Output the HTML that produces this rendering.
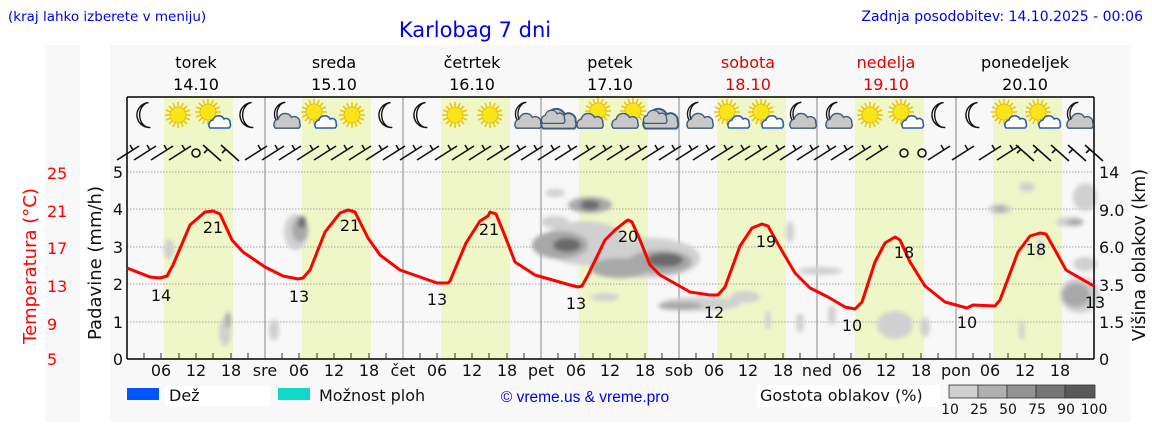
<!DOCTYPE html>
<html><head><meta charset="utf-8"><style>
html,body{margin:0;padding:0;background:#fff;}
svg{display:block;font-family:"DejaVu Sans",sans-serif;}
</style></head><body>
<svg width="1152" height="443" viewBox="0 0 1152 443" xmlns="http://www.w3.org/2000/svg">
<defs>
<filter id="bl" x="-50%" y="-50%" width="200%" height="200%"><feGaussianBlur stdDeviation="2.2"/></filter>
<symbol id="moon" viewBox="-18 -18 36 36" overflow="visible"><path d="M4,-14 A14,14 0 1 0 6,14 A11,14 0 0 1 4,-14 Z" fill="#fff" stroke="#111" stroke-width="1.6"/></symbol>
<g id="sun"><g stroke="#f2c400" stroke-width="1.6"><line x1="-13" y1="0" x2="13" y2="0"/><line x1="0" y1="-13" x2="0" y2="13"/><line x1="-9" y1="-9" x2="9" y2="9"/><line x1="-9" y1="9" x2="9" y2="-9"/><line x1="-12" y1="-5" x2="12" y2="5"/><line x1="-12" y1="5" x2="12" y2="-5"/><line x1="-5" y1="-12" x2="5" y2="12"/><line x1="5" y1="-12" x2="-5" y2="12"/></g><circle r="8" fill="#f7e51a" stroke="#e8b800" stroke-width="0.8"/></g>
<g id="scl"><path d="M-8,8 a5,5 0 0 1 3,-8 a6,6 0 0 1 11,-1 a4,4 0 0 1 6,4 a4,4 0 0 1 -1,5 Z" fill="#fff" stroke="#2a5db0" stroke-width="1.6"/></g>
<g id="gcl"><path d="M-14,8 a6,6 0 0 1 3,-10 a8,8 0 0 1 15,-2 a6,6 0 0 1 9,6 a5,5 0 0 1 -1,6 Z" fill="#c8c8c8" stroke="#3d5a7a" stroke-width="1.6"/></g>
<g id="i_moon"><use href="#moon" x="-16" y="-19" width="32" height="38"/></g>
<g id="i_sun"><use href="#sun"/></g>
<g id="i_sc"><use href="#sun" transform="translate(-4,-3)"/><use href="#scl" transform="translate(6,5)"/></g>
<g id="i_mc"><use href="#moon" x="-17" y="-18" width="30" height="34"/><use href="#gcl" transform="translate(4,6) scale(0.9)"/></g>
<g id="i_cl"><use href="#gcl" transform="translate(0,4) scale(1.2)"/><use href="#gcl" transform="translate(-6,2) scale(0.8)"/></g>
<g id="i_gsc"><use href="#sun" transform="translate(3,-4)"/><use href="#gcl" transform="translate(-4,6) scale(0.9)"/></g>
<g id="b"><g stroke="#111" stroke-width="1.6" fill="none"><line x1="-11" y1="7" x2="11" y2="-7"/><line x1="5" y1="-3" x2="2" y2="-8"/></g></g>
<g id="b2"><g stroke="#111" stroke-width="1.6" fill="none"><line x1="-9" y1="-8" x2="9" y2="8"/><line x1="-4" y1="-4" x2="-8" y2="0"/></g></g>
<g id="bc"><circle r="4" fill="none" stroke="#111" stroke-width="1.6"/></g>
</defs>

<rect x="45" y="45" width="35" height="377" fill="#f8f8f8"/>
<rect x="110" y="45" width="1021" height="377" fill="#f8f8f8"/>

<text x="8" y="21" font-size="13.5" fill="#0000ee">(kraj lahko izberete v meniju)</text>
<text x="475" y="37" font-size="21" fill="#0000ee" text-anchor="middle">Karlobag 7 dni</text>
<text x="1143" y="21" font-size="14" fill="#0000ee" text-anchor="end">Zadnja posodobitev: 14.10.2025 - 00:06</text>

<g font-size="16" text-anchor="middle">
<text x="196" y="68">torek</text><text x="196" y="90">14.10</text>
<text x="334" y="68">sreda</text><text x="334" y="90">15.10</text>
<text x="472" y="68">četrtek</text><text x="472" y="90">16.10</text>
<text x="610" y="68">petek</text><text x="610" y="90">17.10</text>
<text x="748" y="68" fill="#e00000">sobota</text><text x="748" y="90" fill="#e00000">18.10</text>
<text x="886" y="68" fill="#e00000">nedelja</text><text x="886" y="90" fill="#e00000">19.10</text>
<text x="1025" y="68">ponedeljek</text><text x="1025" y="90">20.10</text>
</g>

<rect x="127" y="97" width="967" height="262" fill="#f8f8f8"/>
<g fill="#eff7c8">
<rect x="164" y="97" width="69" height="262"/><rect x="302" y="97" width="69" height="262"/>
<rect x="441" y="97" width="69" height="262"/><rect x="579" y="97" width="69" height="262"/>
<rect x="717" y="97" width="69" height="262"/><rect x="855" y="97" width="69" height="262"/>
<rect x="993" y="97" width="69" height="262"/>
</g>
<g stroke="#888" stroke-width="0.8" stroke-dasharray="1.5,1.5">
<line x1="127" y1="172" x2="1094" y2="172"/><line x1="127" y1="209" x2="1094" y2="209"/>
<line x1="127" y1="247" x2="1094" y2="247"/><line x1="127" y1="284" x2="1094" y2="284"/>
<line x1="127" y1="322" x2="1094" y2="322"/>
</g>
<g stroke="#999" stroke-width="1.2">
<line x1="265" y1="97" x2="265" y2="359"/><line x1="403" y1="97" x2="403" y2="359"/>
<line x1="541" y1="97" x2="541" y2="359"/><line x1="679" y1="97" x2="679" y2="359"/>
<line x1="817" y1="97" x2="817" y2="359"/><line x1="956" y1="97" x2="956" y2="359"/>
</g>

<g filter="url(#bl)">
<g fill="#d0d0d0">
<ellipse cx="169" cy="249" rx="5" ry="10"/><ellipse cx="225" cy="332" rx="6" ry="14"/>
<ellipse cx="274" cy="330" rx="5" ry="11"/>
<ellipse cx="296" cy="232" rx="12" ry="18"/>
<ellipse cx="585" cy="243" rx="42" ry="22"/><ellipse cx="650" cy="258" rx="50" ry="20"/>
<ellipse cx="555" cy="193" rx="10" ry="4"/><ellipse cx="555" cy="222" rx="14" ry="6"/>
<ellipse cx="605" cy="297" rx="14" ry="4"/><ellipse cx="700" cy="304" rx="40" ry="7"/>
<ellipse cx="745" cy="297" rx="15" ry="6"/><ellipse cx="790" cy="232" rx="4" ry="11"/>
<ellipse cx="800" cy="323" rx="4" ry="10"/><ellipse cx="768" cy="320" rx="3" ry="10"/>
<ellipse cx="820" cy="271" rx="22" ry="4"/><ellipse cx="832" cy="315" rx="4" ry="10"/>
<ellipse cx="895" cy="325" rx="18" ry="14"/><ellipse cx="925" cy="327" rx="5" ry="10"/>
<ellipse cx="1000" cy="209" rx="12" ry="5"/><ellipse cx="1027" cy="187" rx="8" ry="5"/>
<ellipse cx="1085" cy="197" rx="12" ry="14"/><ellipse cx="1070" cy="222" rx="14" ry="5"/>
<ellipse cx="1085" cy="264" rx="12" ry="7"/><ellipse cx="1080" cy="295" rx="20" ry="18"/>
<ellipse cx="1022" cy="330" rx="3" ry="10"/><ellipse cx="1040" cy="247" rx="3" ry="10"/>
</g>
<g fill="#a8a8a8">
<ellipse cx="300" cy="230" rx="8" ry="12"/><ellipse cx="590" cy="205" rx="22" ry="8"/>
<ellipse cx="560" cy="245" rx="28" ry="14"/><ellipse cx="620" cy="268" rx="30" ry="10"/>
<ellipse cx="660" cy="262" rx="32" ry="12"/><ellipse cx="680" cy="306" rx="22" ry="4"/>
<ellipse cx="228" cy="320" rx="3" ry="8"/><ellipse cx="1076" cy="295" rx="14" ry="12"/>
<ellipse cx="1000" cy="209" rx="6" ry="3"/><ellipse cx="1075" cy="222" rx="8" ry="3"/>
</g>
<g fill="#6a6a6a">
<ellipse cx="590" cy="205" rx="10" ry="5"/><ellipse cx="567" cy="245" rx="14" ry="7"/>
<ellipse cx="665" cy="260" rx="18" ry="7"/><ellipse cx="302" cy="222" rx="4" ry="6"/>
</g>
</g>

<g stroke="#000" stroke-width="1.5"><line x1="127" y1="97" x2="127" y2="359"/><line x1="127" y1="359" x2="1094" y2="359"/><line x1="127" y1="97" x2="1094" y2="97"/><line x1="1094" y1="97" x2="1094" y2="359"/></g>
<g stroke="#333" stroke-width="1">
<path d="M144,359v-6M161,359v-6M179,359v-6M196,359v-6M213,359v-6M231,359v-6M248,359v-6M282,359v-6M299,359v-6M317,359v-6M334,359v-6M351,359v-6M369,359v-6M386,359v-6M420,359v-6M437,359v-6M455,359v-6M472,359v-6M489,359v-6M507,359v-6M524,359v-6M558,359v-6M575,359v-6M593,359v-6M610,359v-6M627,359v-6M645,359v-6M662,359v-6M696,359v-6M713,359v-6M731,359v-6M748,359v-6M765,359v-6M783,359v-6M800,359v-6M834,359v-6M851,359v-6M869,359v-6M886,359v-6M903,359v-6M921,359v-6M938,359v-6M973,359v-6M990,359v-6M1008,359v-6M1025,359v-6M1042,359v-6M1060,359v-6M1077,359v-6"/>
</g>

<polyline fill="none" stroke="#f00" stroke-width="3" stroke-linejoin="round" points="127,268 150,277 160,278 167,276 173,265 190,225 205,212 213,211 220,214 232,240 243,252 265,267 283,276 298,279 303,278 310,270 325,232 340,213 348,210 355,212 368,238 380,255 400,270 420,277 437,283 448,283 450,281 466,243 480,221 488,216 490,212 496,214 505,236 515,262 535,275 570,285 578,287 582,286 588,275 605,240 615,230 625,222 628,220 632,222 640,240 650,265 660,275 690,292 710,295 718,295 725,287 740,246 752,228 762,224 768,226 778,244 795,273 810,288 828,297 845,307 855,309 862,302 875,262 885,243 895,237 900,240 910,262 925,286 945,302 967,308 973,305 995,306 1000,300 1018,252 1030,236 1040,233 1046,234 1055,250 1066,270 1085,281 1094,286"/>
<g font-size="16" text-anchor="middle" fill="#111">
<text x="161" y="301">14</text><text x="213" y="233">21</text>
<text x="299" y="302">13</text><text x="350" y="231">21</text>
<text x="437" y="305">13</text><text x="489" y="235">21</text>
<text x="576" y="309">13</text><text x="628" y="242">20</text>
<text x="714" y="318">12</text><text x="766" y="247">19</text>
<text x="852" y="331">10</text><text x="904" y="258">18</text>
<text x="967" y="328">10</text><text x="1036" y="255">18</text>
<text x="1095" y="308">13</text>
</g>

<g transform="translate(0,115)">
<use href="#i_moon" x="145"/><use href="#i_sun" x="178"/><use href="#i_sc" x="212"/><use href="#i_moon" x="248"/>
<use href="#i_mc" x="284"/><use href="#i_sc" x="318"/><use href="#i_sun" x="352"/><use href="#i_moon" x="387"/>
<use href="#i_moon" x="422"/><use href="#i_sun" x="455"/><use href="#i_sun" x="490"/><use href="#i_mc" x="525"/>
<use href="#i_cl" x="560"/><use href="#i_gsc" x="595"/><use href="#i_gsc" x="630"/><use href="#i_cl" x="662"/>
<use href="#i_mc" x="697"/><use href="#i_sc" x="731"/><use href="#i_sc" x="765"/><use href="#i_mc" x="800"/>
<use href="#i_mc" x="836"/><use href="#i_sun" x="870"/><use href="#i_sc" x="905"/><use href="#i_moon" x="940"/>
<use href="#i_moon" x="974"/><use href="#i_sc" x="1008"/><use href="#i_sc" x="1042"/><use href="#i_mc" x="1077"/>
</g>

<g transform="translate(0,153)">
<use href="#b" x="128"/><use href="#b" x="145"/><use href="#b" x="162"/><use href="#b" x="180"/><use href="#bc" x="196" y="0"/><use href="#b2" x="212"/><use href="#b2" x="230"/>
<use href="#b" x="256"/><use href="#b" x="273"/><use href="#b" x="290"/><use href="#b" x="308"/><use href="#b" x="325"/><use href="#b" x="342"/><use href="#b" x="360"/><use href="#b" x="377"/>
<use href="#b" x="394"/><use href="#b" x="411"/><use href="#b" x="428"/><use href="#b" x="446"/><use href="#b" x="463"/><use href="#b" x="480"/><use href="#b" x="498"/><use href="#b" x="515"/>
<use href="#b" x="532"/><use href="#b" x="549"/><use href="#b" x="566"/><use href="#b" x="584"/><use href="#b" x="601"/><use href="#b" x="618"/><use href="#b" x="636"/><use href="#b" x="653"/>
<use href="#b" x="670"/><use href="#b" x="687"/><use href="#b" x="704"/><use href="#b" x="722"/><use href="#b" x="739"/><use href="#b" x="756"/><use href="#b" x="774"/><use href="#b" x="791"/>
<use href="#b" x="808"/><use href="#b" x="825"/><use href="#b" x="842"/><use href="#b" x="860"/><use href="#b" x="877"/><use href="#bc" x="904"/><use href="#bc" x="922"/><use href="#b" x="939"/>
<use href="#b" x="963"/><use href="#b" x="990"/><use href="#b" x="1008"/><use href="#b2" x="1025"/><use href="#b2" x="1042"/><use href="#b2" x="1060"/><use href="#b2" x="1077"/><use href="#b2" x="1094"/>
</g>

<g font-size="16" fill="#111" text-anchor="middle">
<text x="161" y="376">06</text><text x="196" y="376">12</text><text x="231" y="376">18</text><text x="265" y="376">sre</text>
<text x="299" y="376">06</text><text x="334" y="376">12</text><text x="369" y="376">18</text><text x="403" y="376">čet</text>
<text x="437" y="376">06</text><text x="472" y="376">12</text><text x="507" y="376">18</text><text x="541" y="376">pet</text>
<text x="576" y="376">06</text><text x="610" y="376">12</text><text x="645" y="376">18</text><text x="679" y="376">sob</text>
<text x="714" y="376">06</text><text x="748" y="376">12</text><text x="783" y="376">18</text><text x="817" y="376">ned</text>
<text x="852" y="376">06</text><text x="886" y="376">12</text><text x="921" y="376">18</text><text x="956" y="376">pon</text>
<text x="990" y="376">06</text><text x="1025" y="376">12</text><text x="1060" y="376">18</text>
</g>
<g font-size="16" fill="#111" text-anchor="end">
<text x="123" y="178">5</text><text x="123" y="215">4</text><text x="123" y="253">3</text><text x="123" y="290">2</text><text x="123" y="328">1</text><text x="123" y="365">0</text>
</g>
<g font-size="16" fill="#f00">
<text x="47" y="179">25</text><text x="47" y="217">21</text><text x="47" y="254">17</text><text x="47" y="292">13</text><text x="47" y="330">9</text><text x="47" y="365">5</text>
</g>
<g font-size="16" fill="#111">
<text x="1099" y="178">14</text><text x="1099" y="216">9.0</text><text x="1099" y="253">6.0</text><text x="1099" y="291">3.5</text><text x="1099" y="328">1.5</text><text x="1099" y="365">0</text>
</g>
<text transform="translate(36,266) rotate(-90)" font-size="18" fill="#f00" text-anchor="middle">Temperatura (°C)</text>
<text transform="translate(101,263) rotate(-90)" font-size="18" fill="#111" text-anchor="middle">Padavine (mm/h)</text>
<text transform="translate(1145,255) rotate(-90)" font-size="17.5" fill="#111" text-anchor="middle">Višina oblakov (km)</text>

<rect x="127" y="388" width="32" height="12" fill="#0055ff"/>
<rect x="165" y="386" width="105" height="20" fill="#fff"/>
<text x="169" y="401" font-size="16" fill="#111">Dež</text>
<rect x="278" y="388" width="32" height="12" fill="#11d8c8"/>
<text x="319" y="401" font-size="16" fill="#111">Možnost ploh</text>
<text x="585" y="402" font-size="15.5" fill="#0000ee" text-anchor="middle" font-family="Liberation Sans">© vreme.us &amp; vreme.pro</text>
<rect x="757" y="385" width="183" height="22" fill="#fff"/>
<text x="760" y="401" font-size="16" fill="#111">Gostota oblakov (%)</text>
<g stroke="#333" stroke-width="0.8">
<rect x="949" y="385" width="29" height="13" fill="#d0d0d0"/><rect x="978" y="385" width="29" height="13" fill="#b0b0b0"/>
<rect x="1007" y="385" width="29" height="13" fill="#939393"/><rect x="1036" y="385" width="29" height="13" fill="#767676"/>
<rect x="1065" y="385" width="30" height="13" fill="#595959"/>
</g>
<g font-size="14" fill="#111" text-anchor="middle">
<text x="950" y="414">10</text><text x="979" y="414">25</text><text x="1008" y="414">50</text><text x="1037" y="414">75</text><text x="1066" y="414">90</text><text x="1094" y="414">100</text>
</g>
</svg>
</body></html>
